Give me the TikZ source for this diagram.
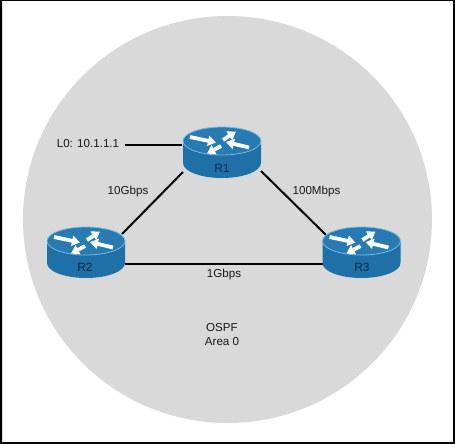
\documentclass[tikz,border=0pt]{standalone}
\usepackage{fontspec}
\setmainfont{Liberation Sans}
\usetikzlibrary{arrows.meta}
\definecolor{disc}{RGB}{217,217,217}
\definecolor{rside}{RGB}{32,112,168}
\definecolor{rtop}{RGB}{40,122,178}
\definecolor{rrim}{RGB}{120,185,222}
\definecolor{rtext}{RGB}{12,40,75}
\tikzset{
  x=1pt,y=-1pt,
  link/.style={line width=2pt,black},
  lbl/.style={font=\fontsize{11.6}{13}\selectfont,inner sep=0pt,text=black!90},
  rarrow/.style={white,line width=3.8pt,-{Triangle[width=10pt,length=8pt]}},
  rlabel/.style={font=\fontsize{12}{13}\selectfont,inner sep=0pt,text=rtext},
  router/.pic={
    \fill[rside] (-39,0) -- (-39,22) arc[x radius=39,y radius=15,start angle=180,end angle=0] -- (39,0) -- cycle;
    \fill[rtop,draw=rrim,line width=0.8pt] (0,0) ellipse[x radius=39,y radius=14];
    \draw[rarrow] (-32,-4) -- (-6,1.5);
    \draw[rarrow] (27,6.5) -- (4,1);
    \draw[rarrow] (-1,5) -- (-15,12.5);
    \draw[rarrow] (1,-1) -- (14,-9.5);
  }
}
\begin{document}
\begin{tikzpicture}
\useasboundingbox (0,0) rectangle (455,444);
\fill[white] (0,0) rectangle (455,444);
\fill[disc] (227.5,219.5) ellipse[x radius=204.5,y radius=203.5];
\fill[black,even odd rule] (0,0) rectangle (455,444) (2,1) rectangle (453,442);
\coordinate (L0end) at (125,145);
\coordinate (r1w) at (182,145);
\coordinate (r1sw) at (183,172);
\coordinate (r1se) at (261,171);
\coordinate (r2ne) at (122,234);
\coordinate (r2e) at (125,264);
\coordinate (r3w) at (324,264);
\coordinate (r3nw) at (326,235);
\draw[link] (L0end) -- (r1w);
\draw[link] (r1sw) -- (r2ne);
\draw[link] (r1se) -- (r3nw);
\draw[link] (r2e) -- (r3w);
\pic at (222,141) {router};
\pic at (86,241) {router};
\pic at (361.5,241) {router};
\node[rlabel] (R1) at (222,168) {R1};
\node[rlabel] (R2) at (85,267) {R2};
\node[rlabel] (R3) at (362,267) {R3};
\node[lbl] (lo) at (88,144) {L0: 10.1.1.1};
\node[lbl] (g10) at (128,191) {10Gbps};
\node[lbl] (m100) at (316.5,191) {100Mbps};
\node[lbl] (g1) at (224,274) {1Gbps};
\node[lbl] (ospf) at (222,328) {OSPF};
\node[lbl] (area) at (222,342) {Area 0};
\end{tikzpicture}
\end{document}
